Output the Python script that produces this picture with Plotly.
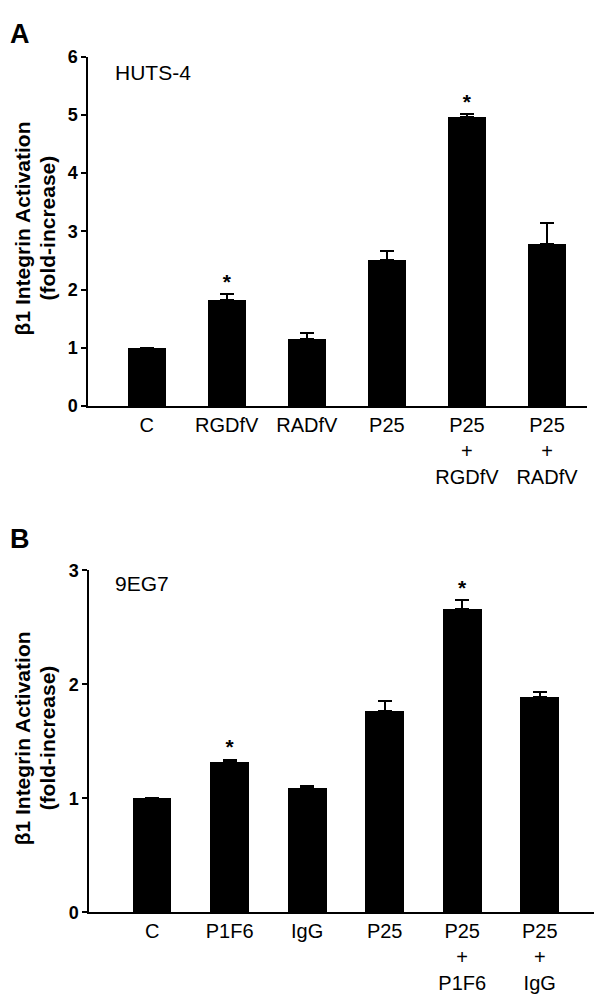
import plotly.graph_objects as go

# ---- Data ----
cats_a = ["C", "RGDfV", "RADfV", "P25", "P25<br>+<br>RGDfV", "P25<br>+<br>RADfV"]
vals_a = [1.00, 1.82, 1.15, 2.51, 4.97, 2.79]
err_a = [0.00, 0.10, 0.11, 0.15, 0.05, 0.36]
star_a = [False, True, False, False, True, False]

cats_b = ["C", "P1F6", "IgG", "P25", "P25<br>+<br>P1F6", "P25<br>+<br>IgG"]
vals_b = [1.00, 1.32, 1.09, 1.77, 2.66, 1.89]
err_b = [0.00, 0.02, 0.02, 0.08, 0.08, 0.04]
star_b = [False, True, False, False, True, False]

yticks_a = [0, 1, 2, 3, 4, 5, 6]
yticks_b = [0, 1, 2, 3]

FONT = "Liberation Sans, Arial, sans-serif"
W, H = 602, 1002

fig = go.Figure()

def add_panel(cats, vals, errs, stars, xa, ya, width):
    fig.add_trace(go.Bar(
        x=cats, y=vals, width=width,
        marker=dict(color="black", line=dict(width=0)),
        error_y=dict(type="data", array=errs, arrayminus=[0] * len(errs),
                     symmetric=False, color="black", thickness=2, width=7),
        xaxis=xa, yaxis=ya, showlegend=False, hoverinfo="skip"))
    sx = [c for c, s in zip(cats, stars) if s]
    sy = [v + e for v, e, s in zip(vals, errs, stars) if s]
    fig.add_trace(go.Scatter(
        x=sx, y=sy, mode="text", text=["*"] * len(sx),
        textposition="top center",
        textfont=dict(family=FONT, size=21, color="black", weight="bold"),
        xaxis=xa, yaxis=ya, showlegend=False, hoverinfo="skip"))

add_panel(cats_a, vals_a, err_a, star_a, "x", "y", 0.48)
add_panel(cats_b, vals_b, err_b, star_b, "x2", "y2", 0.50)

xcommon = dict(showline=True, linecolor="black", linewidth=2, ticks="",
               showgrid=False, zeroline=False, type="category",
               tickfont=dict(family=FONT, size=20, color="black"))
ycommon = dict(showline=True, linecolor="black", linewidth=2, ticks="outside",
               ticklen=5, tickwidth=2, tickcolor="black", showgrid=False,
               zeroline=False,
               tickfont=dict(family=FONT, size=18, color="black", weight="bold"))

fig.update_layout(
    width=W, height=H,
    margin=dict(l=0, r=0, t=0, b=0),
    paper_bgcolor="white", plot_bgcolor="white",
    bargap=0,
    xaxis=dict(domain=[88.3 / W, 587 / W], range=[-0.73, 5.50],
               anchor="y", **xcommon),
    yaxis=dict(domain=[1 - 404 / H, 1 - 47.7 / H], range=[0, 6],
               tickvals=yticks_a, anchor="x", **ycommon),
    xaxis2=dict(domain=[89.3 / W, 594 / W], range=[-0.81, 5.70],
                anchor="y2", **xcommon),
    yaxis2=dict(domain=[1 - 920.7 / H, 1 - 571.7 / H], range=[0, 3],
                tickvals=yticks_b, anchor="x2", **ycommon),
)

ann = []
# panel letters
ann.append(dict(text="<b>A</b>", x=8 / W, y=1 - 24 / H, xref="paper", yref="paper",
                xanchor="left", yanchor="middle", showarrow=False,
                font=dict(family=FONT, size=27, color="black")))
ann.append(dict(text="<b>B</b>", x=8 / W, y=1 - 540 / H, xref="paper", yref="paper",
                xanchor="left", yanchor="middle", showarrow=False,
                font=dict(family=FONT, size=27, color="black")))
# antibody labels
ann.append(dict(text="HUTS-4", x=113 / W, y=1 - 64 / H, xref="paper", yref="paper",
                xanchor="left", yanchor="middle", showarrow=False,
                font=dict(family=FONT, size=21, color="black")))
ann.append(dict(text="9EG7", x=113 / W, y=1 - 585 / H, xref="paper", yref="paper",
                xanchor="left", yanchor="middle", showarrow=False,
                font=dict(family=FONT, size=21, color="black")))
# y-axis titles
for yc in [(47.7 + 404) / 2 - 3, (571.7 + 920.7) / 2 - 3]:
    ann.append(dict(text="<b>β1 Integrin Activation</b>", x=22 / W, y=1 - yc / H,
                    xref="paper", yref="paper", xanchor="center", yanchor="middle",
                    textangle=-90, showarrow=False,
                    font=dict(family=FONT, size=21, color="black")))
    ann.append(dict(text="<b>(fold-increase)</b>", x=47 / W, y=1 - yc / H,
                    xref="paper", yref="paper", xanchor="center", yanchor="middle",
                    textangle=-90, showarrow=False,
                    font=dict(family=FONT, size=21, color="black")))
fig.update_layout(annotations=ann)

fig.write_html("out.html",
               config={"displayModeBar": False, "staticPlot": True},
               post_script="document.body.style.margin='0';document.body.style.padding='0';")
